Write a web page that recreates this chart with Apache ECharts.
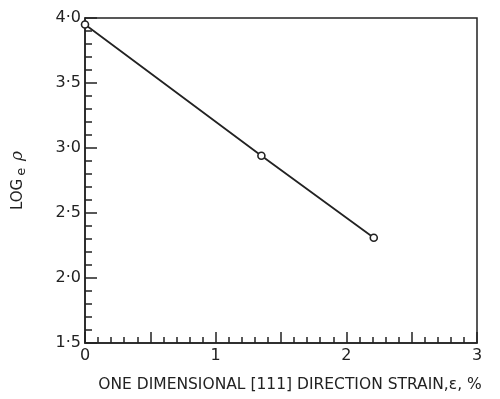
<!DOCTYPE html>
<html><head><meta charset="utf-8">
<script src="https://cdn.jsdelivr.net/npm/echarts@6/dist/echarts.min.js"></script>
<style>html,body{margin:0;padding:0;background:#fff;}#c{width:500px;height:399px;}</style>
</head><body><div id="c"></div>
<script>
const strain = [0, 1.35, 2.21];
const logRho = [3.95, 2.94, 2.31];
const xTickLabels = {0:'0',1:'1',2:'2',3:'3'};
const yTickLabels = {'1.5':'1·5','2':'2·0','2.5':'2·5','3':'3·0','3.5':'3·5','4':'4·0'};
const xTitle = 'ONE DIMENSIONAL [111] DIRECTION STRAIN,\u03b5, %';

const ink = '#222';
const chart = echarts.init(document.getElementById('c'), null, {renderer:'canvas'});
chart.setOption({
  backgroundColor:'#fff',
  animation:false,
  grid:{left:85,right:23,top:18,bottom:56,show:true,borderColor:ink,borderWidth:1.5,backgroundColor:'transparent'},
  xAxis:{type:'value',min:0,max:3,interval:0.5,
    axisLine:{lineStyle:{color:ink,width:1.5}},
    axisTick:{inside:true,length:11,lineStyle:{color:ink,width:1.5}},
    minorTick:{show:true,splitNumber:5,length:6,lineStyle:{color:ink,width:1.5}},
    splitLine:{show:false},
    axisLabel:{color:ink,fontSize:16,fontFamily:'DejaVu Sans',margin:5,
      formatter:v=>xTickLabels[v]!==undefined?xTickLabels[v]:''},
    name:xTitle,nameLocation:'middle',nameGap:34,
    nameTextStyle:{color:ink,fontSize:15.5,fontFamily:'DejaVu Sans',padding:[0,0,0,18]}
  },
  yAxis:{type:'value',min:1.5,max:4.0,interval:0.5,
    axisLine:{lineStyle:{color:ink,width:1.5}},
    axisTick:{inside:true,length:12,lineStyle:{color:ink,width:1.5}},
    minorTick:{show:true,splitNumber:5,length:7,lineStyle:{color:ink,width:1.5}},
    splitLine:{show:false},
    axisLabel:{color:ink,fontSize:16,fontFamily:'DejaVu Sans',margin:4,
      formatter:v=>yTickLabels[String(v)]||''},
    name:'{a|LOG}{s|e} {p|\u03c1}',nameLocation:'middle',nameGap:57,nameRotate:90,
    nameTextStyle:{color:ink,fontSize:15,fontFamily:'DejaVu Sans',
      rich:{a:{fontSize:15,color:ink,fontFamily:'DejaVu Sans'},
            s:{fontSize:13,color:ink,fontFamily:'DejaVu Sans',padding:[7,2,0,3]},
            p:{fontSize:17,color:ink,fontStyle:'italic',fontFamily:'DejaVu Serif'}}}
  },
  series:[{type:'line',data:strain.map((x,i)=>[x,logRho[i]]),
    lineStyle:{color:ink,width:1.8},
    symbol:'circle',symbolSize:7,
    itemStyle:{color:'#fff',borderColor:ink,borderWidth:1.6},
    z:3}]
});
</script></body></html>
